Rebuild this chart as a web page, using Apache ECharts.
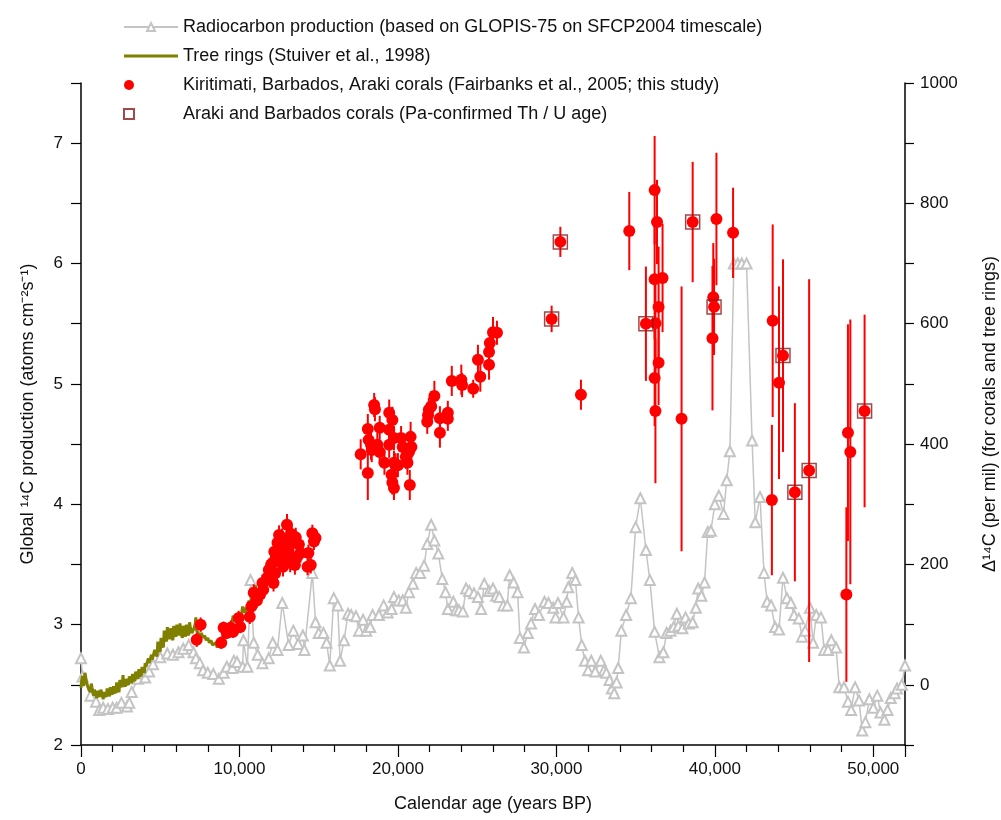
<!DOCTYPE html>
<html>
<head>
<meta charset="utf-8">
<script src="https://cdn.jsdelivr.net/npm/echarts@6/dist/echarts.min.js"></script>
<style>
  html, body { margin: 0; padding: 0; background: #fff; }
  #chart { width: 1001px; height: 820px; }
</style>
</head>
<body>
<div id="chart"></div>
<script>
// radiocarbon production [year BP, atoms cm-2 s-1]
const production = [
  [0, 2.72], [100, 2.57], [600, 2.41], [950, 2.36], [1150, 2.29], [1400, 2.31], [1700, 2.30], [2000, 2.31],
  [2250, 2.31], [2550, 2.35], [2900, 2.32], [3050, 2.35], [3200, 2.44], [3600, 2.55], [4050, 2.56], [4300, 2.61],
  [4550, 2.67], [5000, 2.73], [5450, 2.76], [5800, 2.75], [6150, 2.77], [6450, 2.80], [6800, 2.83], [7100, 2.77],
  [7250, 2.72], [7500, 2.68], [7700, 2.62], [8000, 2.60], [8350, 2.59], [8700, 2.55], [9000, 2.60], [9200, 2.65],
  [9550, 2.64], [9650, 2.70], [9850, 2.69], [10200, 2.65], [10250, 2.87], [10500, 2.65], [10700, 3.37], [10900, 2.85],
  [11150, 2.75], [11450, 2.68], [11850, 2.72], [12100, 2.85], [12400, 2.79], [12700, 3.18], [13100, 2.83], [13400, 2.95],
  [13700, 2.84], [14000, 2.91], [14100, 2.79], [14600, 3.43], [14800, 3.02], [15000, 2.93], [15300, 2.93], [15500, 2.85],
  [15700, 2.66], [15950, 3.22], [16200, 3.16], [16350, 2.70], [16600, 2.87], [16850, 3.09], [17050, 3.08], [17350, 3.07],
  [17550, 2.95], [17800, 3.04], [18000, 2.95], [18250, 2.98], [18400, 3.08], [18800, 3.08], [19100, 3.16], [19350, 3.10],
  [19600, 3.13], [19750, 3.23], [20050, 3.20], [20300, 3.20], [20500, 3.14], [20700, 3.27], [20950, 3.34], [21150, 3.43],
  [21400, 3.43], [21650, 3.49], [21850, 3.67], [22100, 3.83], [22300, 3.70], [22550, 3.59], [22800, 3.38], [23000, 3.27],
  [23150, 3.13], [23500, 3.19], [23650, 3.12], [23850, 3.12], [24100, 3.11], [24300, 3.30], [24500, 3.28], [24800, 3.26],
  [25050, 3.23], [25250, 3.13], [25450, 3.34], [25750, 3.28], [26000, 3.30], [26200, 3.24], [26400, 3.23], [26650, 3.16],
  [26900, 3.16], [27050, 3.41], [27300, 3.35], [27550, 3.27], [27700, 2.89], [27950, 2.81], [28200, 2.93], [28400, 3.01],
  [28650, 3.13], [28900, 3.08], [29250, 3.19], [29500, 3.18], [29800, 3.14], [29950, 3.06], [30100, 3.18], [30450, 3.06],
  [30650, 3.19], [30750, 3.31], [31000, 3.43], [31200, 3.37], [31400, 3.06], [31600, 2.83], [31800, 2.70], [32000, 2.62],
  [32200, 2.70], [32450, 2.61], [32800, 2.70], [33000, 2.62], [33150, 2.60], [33350, 2.54], [33500, 2.47], [33650, 2.43],
  [33800, 2.52], [33900, 2.64], [34100, 2.95], [34400, 3.08], [34700, 3.22], [35000, 3.81], [35300, 4.05], [35650, 3.62],
  [35900, 3.37], [36200, 2.94], [36500, 2.73], [36750, 2.77], [36950, 2.93], [37200, 2.95], [37400, 2.98], [37600, 3.09],
  [37700, 2.99], [37950, 2.97], [38150, 3.06], [38350, 3.01], [38600, 3.02], [38800, 3.14], [38950, 3.30], [39150, 3.24],
  [39350, 3.35], [39550, 3.77], [39750, 3.78], [40000, 4.00], [40250, 4.07], [40550, 3.92], [40750, 4.20], [40950, 4.44],
  [41200, 6.00], [41450, 6.00], [41700, 6.00], [42000, 6.00], [42350, 4.53], [42550, 3.85], [42850, 4.06], [43100, 3.43],
  [43300, 3.19], [43550, 3.16], [43800, 2.98], [44050, 2.96], [44300, 3.39], [44550, 3.22], [44800, 3.18], [45000, 3.08],
  [45300, 3.05], [45500, 2.90], [45700, 2.95], [46000, 3.14], [46200, 2.85], [46400, 3.08], [46700, 3.06], [46900, 2.79],
  [47150, 2.79], [47350, 2.87], [47650, 2.81], [47850, 2.48], [48150, 2.48], [48400, 2.36], [48600, 2.29], [48850, 2.48],
  [49100, 2.37], [49300, 2.12], [49500, 2.19], [49750, 2.38], [50000, 2.31], [50250, 2.41], [50450, 2.27], [50700, 2.21],
  [50900, 2.29], [51100, 2.39], [51350, 2.43], [51500, 2.47], [51800, 2.50], [52000, 2.66]
];

// tree rings D14C [year BP, per mil]
const treeRings = [
  [0, -5], [50, 10], [100, 15], [150, -2], [200, 5], [250, 20], [300, 18], [350, 4], [400, 2], [500, -8],
  [600, -12], [650, 2], [700, -5], [800, -18], [850, -8], [900, -15], [1000, -22], [1050, -10], [1100, -14],
  [1200, -20], [1250, -8], [1300, -12], [1400, -24], [1450, -12], [1500, -16], [1600, -20], [1650, -6],
  [1700, -13], [1800, -19], [1850, -4], [1900, -12], [2000, -16], [2050, -2], [2100, -10], [2200, -14],
  [2250, 4], [2300, -6], [2400, -12], [2450, 8], [2500, 5], [2600, -4], [2650, 16], [2700, 2], [2800, -3],
  [2850, 10], [2900, 4], [3000, 0], [3050, 14], [3100, 8], [3200, 3], [3250, 18], [3300, 12], [3400, 6],
  [3450, 22], [3500, 14], [3600, 10], [3650, 26], [3700, 18], [3800, 14], [3850, 30], [3900, 24], [4000, 20],
  [4050, 36], [4100, 30], [4200, 27], [4250, 44], [4300, 36], [4400, 33], [4450, 50], [4500, 42], [4600, 40],
  [4650, 58], [4700, 52], [4800, 47], [4850, 72], [4900, 60], [5000, 55], [5050, 78], [5100, 68], [5200, 62],
  [5250, 90], [5300, 80], [5400, 72], [5450, 96], [5500, 84], [5600, 76], [5650, 94], [5700, 82], [5800, 74],
  [5850, 98], [5900, 88], [6000, 80], [6050, 100], [6100, 92], [6200, 82], [6250, 102], [6300, 86], [6400, 78],
  [6450, 98], [6500, 90], [6600, 80], [6650, 100], [6700, 88], [6800, 82], [6850, 104], [6900, 95], [7000, 86],
  [7100, 92], [7200, 100], [7250, 112], [7300, 90], [7400, 86], [7500, 80], [7600, 86], [7700, 78], [7800, 82],
  [7900, 74], [8000, 78], [8100, 70], [8200, 74], [8300, 66], [8400, 64], [8500, 70], [8600, 62], [8700, 68],
  [8800, 78], [8900, 74], [9000, 88], [9100, 82], [9200, 96], [9300, 90], [9400, 104], [9500, 98], [9600, 115],
  [9700, 105], [9800, 112], [9900, 104], [10000, 118], [10100, 112], [10200, 130], [10300, 120], [10400, 128],
  [10500, 122], [10600, 140], [10700, 132], [10800, 150], [10900, 145], [11000, 165], [11100, 155], [11200, 160],
  [11300, 135], [11400, 150], [11500, 142]
];

// corals [year BP, D14C, 1-sigma error]
const corals = [
  [7300, 75, 12], [7550, 100, 12], [8850, 70, 10], [9000, 95, 10], [9200, 86, 10], [9450, 95, 12], [9600, 88, 10],
  [9950, 111, 12], [10050, 96, 10], [10650, 113, 12], [10750, 130, 12], [10900, 153, 14], [11100, 140, 12],
  [11300, 150, 12], [11450, 169, 14], [11500, 158, 12], [11750, 178, 14], [11850, 191, 14], [12000, 200, 14],
  [12100, 203, 14], [12150, 169, 14], [12200, 221, 16], [12250, 185, 14], [12300, 213, 16], [12400, 236, 16],
  [12500, 249, 16], [12550, 225, 16], [12600, 210, 16], [12700, 244, 16], [12750, 196, 16], [12800, 208, 16],
  [12900, 230, 16], [12950, 240, 16], [13000, 266, 18], [13050, 215, 16], [13100, 219, 16], [13200, 203, 16],
  [13300, 250, 16], [13400, 236, 16], [13500, 199, 16], [13550, 245, 16], [13650, 213, 16], [13750, 233, 16],
  [13850, 219, 16], [14300, 196, 14], [14350, 219, 14], [14500, 199, 14], [14600, 252, 14], [14700, 238, 14],
  [14800, 244, 14],
  [17650, 383, 25], [18100, 352, 45], [18100, 425, 25], [18150, 407, 25], [18300, 399, 25], [18350, 390, 20],
  [18500, 465, 20], [18550, 458, 20], [18700, 399, 20], [18850, 387, 20], [18850, 427, 20], [19150, 369, 20],
  [19450, 452, 22], [19450, 424, 22], [19450, 399, 22], [19650, 440, 22], [19750, 410, 20], [19750, 369, 20],
  [19600, 349, 20], [19650, 336, 20], [19750, 327, 20], [19850, 365, 20], [20000, 365, 20], [20200, 410, 20],
  [20300, 395, 20], [20500, 379, 20], [20600, 369, 20], [20700, 387, 20], [20800, 412, 25], [20750, 332, 25],
  [20850, 395, 20], [21850, 437, 20], [21900, 448, 20], [21950, 457, 20], [22100, 463, 25], [22300, 480, 25],
  [22650, 443, 20], [22650, 419, 25], [23150, 452, 20], [23150, 442, 20], [23400, 505, 25], [24000, 507, 25],
  [24050, 498, 20], [24750, 492, 15], [25050, 540, 25], [25200, 512, 25], [25750, 532, 25], [25750, 553, 20],
  [25800, 568, 20], [26000, 586, 25], [26250, 585, 20],
  [29700, 608, 22], [30250, 736, 25], [31550, 482, 25], [34600, 754, 65], [35650, 600, 95], [36200, 822, 90],
  [36350, 769, 70], [36200, 674, 100], [36700, 676, 90], [36450, 628, 100], [36250, 601, 80], [36450, 535, 70],
  [36200, 510, 80], [36250, 455, 120], [37900, 442, 220], [38600, 769, 100], [40100, 774, 110], [39900, 644, 90],
  [39950, 628, 80], [39850, 576, 120], [41150, 751, 75], [43650, 605, 160], [44050, 502, 160], [44300, 547, 160],
  [43600, 307, 125], [45050, 320, 148], [45950, 356, 318], [48400, 419, 180], [48550, 387, 220], [48300, 150, 145],
  [49450, 455, 160]
];

// Pa-confirmed Th/U ages [year BP, D14C]
const paConfirmed = [
  [29700, 608], [30250, 736], [35650, 600], [38600, 769], [39950, 628], [44300, 547], [45050, 320], [45950, 356], [49450, 455]
];

const leftTicks = [2, 3, 4, 5, 6, 7];
const rightTicks = [0, 200, 400, 600, 800, 1000];

const FONT = 'Liberation Sans, Arial, sans-serif';
const chart = echarts.init(document.getElementById('chart'));

// legend icons: the trailing moveTo widens the box so the mark sits at the left
const dotIcon = 'path://M0,5a5,5 0 1,0 10,0a5,5 0 1,0 -10,0Z M54,0';
const boxIcon = 'path://M0,0H10V10H0Z M54,0';
const barIcon = 'path://M0,0H54V3H0Z';

chart.setOption({
  animation: false,
  textStyle: { fontFamily: FONT },
  legend: {
    orient: 'vertical',
    left: 118,
    top: 12,
    itemWidth: 54,
    itemHeight: 10,
    itemGap: 9,
    textStyle: { fontSize: 18, color: '#111', fontFamily: FONT, lineHeight: 20 },
    data: [
      { name: 'Radiocarbon production (based on GLOPIS-75 on SFCP2004 timescale)' },
      { name: 'Tree rings (Stuiver et al., 1998)', icon: barIcon },
      { name: 'Kiritimati, Barbados, Araki corals (Fairbanks et al., 2005; this study)', icon: dotIcon },
      { name: 'Araki and Barbados corals (Pa-confirmed Th / U age)', icon: boxIcon }
    ]
  },
  grid: { left: 81, right: 96, top: 83, bottom: 75, outerBoundsMode: 'none', containLabel: false },
  xAxis: {
    type: 'value',
    min: 0,
    max: 52000,
    interval: 10000,
    name: 'Calendar age (years BP)',
    nameLocation: 'middle',
    nameGap: 50,
    nameTextStyle: { fontSize: 18, color: '#111' },
    axisLine: { onZero: false, lineStyle: { color: '#000', width: 1.5 } },
    axisTick: { length: 12, lineStyle: { color: '#000', width: 1.2 } },
    minorTick: { show: true, splitNumber: 5, length: 7, lineStyle: { color: '#000', width: 1.2 } },
    axisLabel: {
      fontSize: 17, color: '#111', margin: 16,
      formatter: v => (v % 10000 === 0 ? v.toLocaleString('en-US') : '')
    },
    splitLine: { show: false }
  },
  yAxis: [
    {
      type: 'value',
      min: 2,
      max: 7.5,
      interval: 0.5,
      name: 'Global \u00B9\u2074C production (atoms cm\u207B\u00B2s\u207B\u00B9)',
      nameLocation: 'middle',
      nameRotate: 90,
      nameGap: 44,
      nameTextStyle: { fontSize: 18, color: '#111' },
      axisLine: { show: true, onZero: false, lineStyle: { color: '#000', width: 1.5 } },
      axisTick: { show: true, length: 10, lineStyle: { color: '#000', width: 1.2 } },
      axisLabel: {
        fontSize: 17, color: '#111', margin: 18,
        formatter: v => (leftTicks.includes(v) ? String(v) : '')
      },
      splitLine: { show: false }
    },
    {
      type: 'value',
      min: -100,
      max: 1000,
      interval: 100,
      position: 'right',
      name: '\u0394\u00B9\u2074C (per mil) (for corals and tree rings)',
      nameLocation: 'middle',
      nameRotate: 90,
      nameGap: 76,
      nameTextStyle: { fontSize: 18, color: '#111' },
      axisLine: { show: true, onZero: false, lineStyle: { color: '#000', width: 1.5 } },
      axisTick: { show: true, length: 9, lineStyle: { color: '#000', width: 1.2 } },
      axisLabel: {
        fontSize: 17, color: '#111', margin: 15,
        formatter: v => (rightTicks.includes(v) ? String(v) : '')
      },
      splitLine: { show: false }
    }
  ],
  series: [
    {
      name: 'Radiocarbon production (based on GLOPIS-75 on SFCP2004 timescale)',
      type: 'line',
      yAxisIndex: 0,
      data: production,
      symbol: 'emptyTriangle',
      symbolSize: 10,
      showAllSymbol: true,
      lineStyle: { color: '#c4c4c4', width: 1.5 },
      itemStyle: { color: '#c4c4c4', borderWidth: 1.5 },
      z: 1
    },
    {
      name: 'Tree rings (Stuiver et al., 1998)',
      type: 'line',
      yAxisIndex: 1,
      data: treeRings,
      showSymbol: false,
      symbol: 'none',
      lineStyle: { color: '#808000', width: 3 },
      itemStyle: { color: '#808000' },
      z: 2
    },
    {
      name: 'corals error',
      type: 'custom',
      yAxisIndex: 1,
      data: corals,
      z: 3,
      renderItem: (params, api) => {
        const x = api.value(0), y = api.value(1), e = api.value(2);
        const top = api.coord([x, y + e]);
        const bot = api.coord([x, y - e]);
        return {
          type: 'line',
          shape: { x1: top[0], y1: top[1], x2: bot[0], y2: bot[1] },
          style: { stroke: '#ff0000', lineWidth: 2 }
        };
      },
      encode: { x: 0, y: 1 }
    },
    {
      name: 'Kiritimati, Barbados, Araki corals (Fairbanks et al., 2005; this study)',
      type: 'scatter',
      yAxisIndex: 1,
      data: corals.map(d => [d[0], d[1]]),
      symbol: 'circle',
      symbolSize: 12,
      itemStyle: { color: '#ff0000', opacity: 1 },
      z: 4
    },
    {
      name: 'Araki and Barbados corals (Pa-confirmed Th / U age)',
      type: 'scatter',
      yAxisIndex: 1,
      data: paConfirmed,
      symbol: 'rect',
      symbolSize: 14,
      itemStyle: { color: 'rgba(255,255,255,0)', borderColor: '#8b1a1a', borderWidth: 1.5 },
      z: 5
    }
  ]
});
</script>
</body>
</html>
